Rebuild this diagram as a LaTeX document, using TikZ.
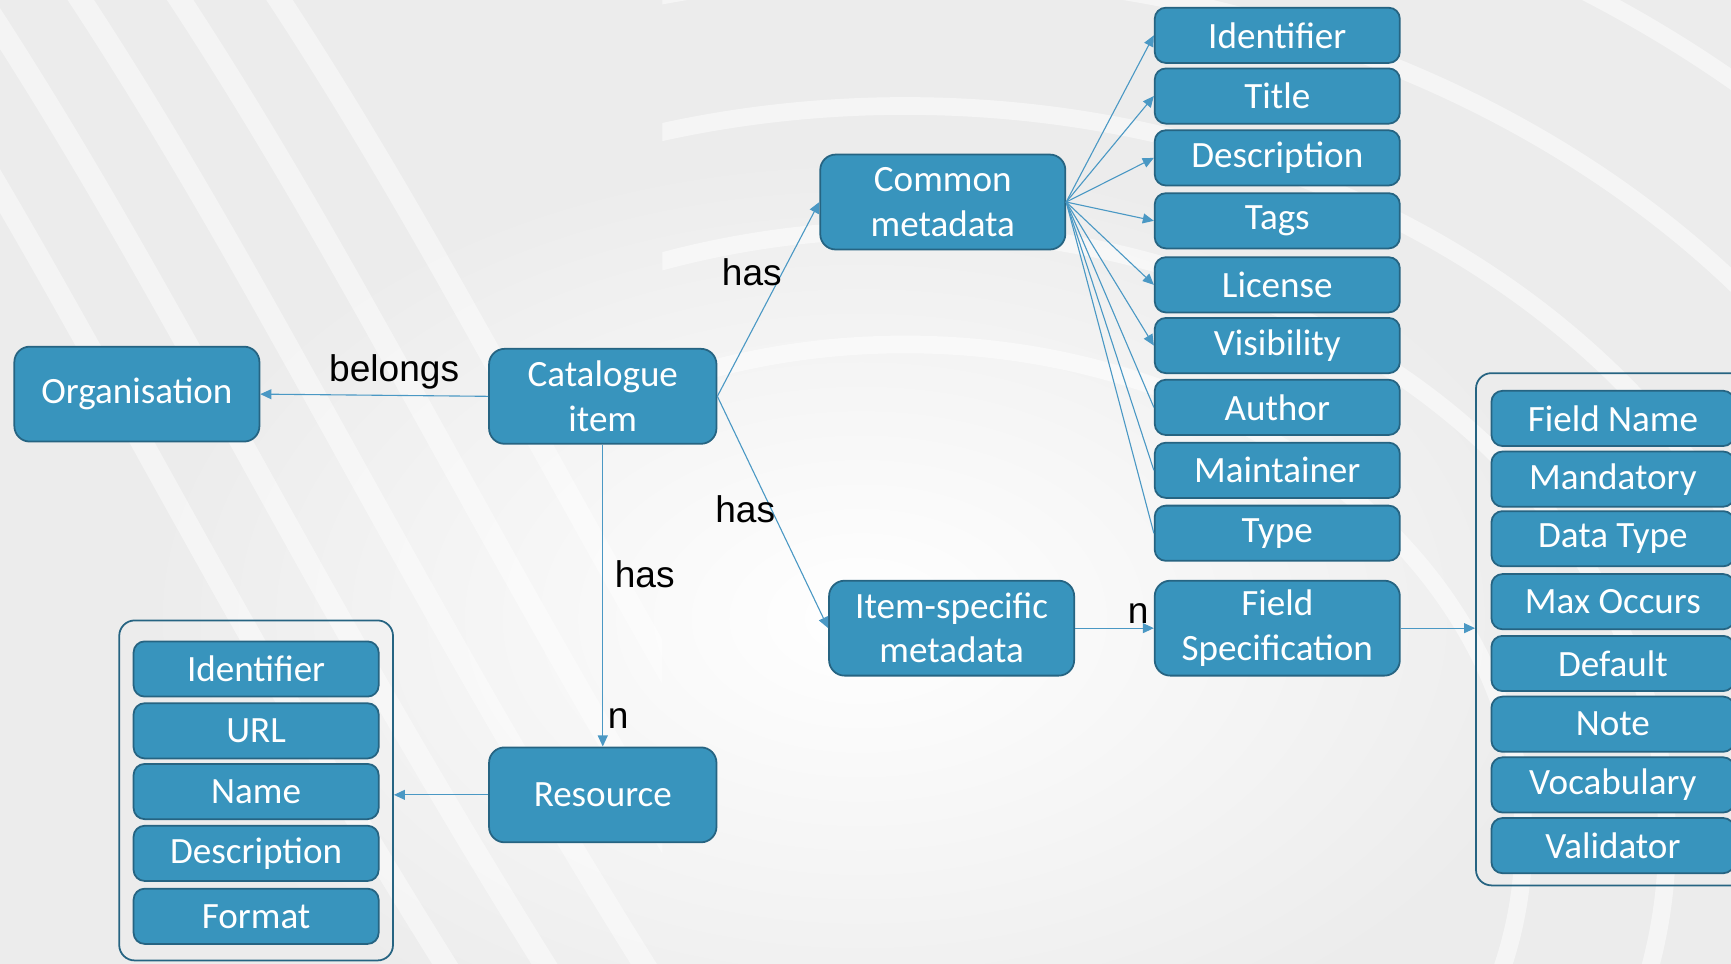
\documentclass[tikz,border=0pt]{standalone}
\usepackage{fontspec}
\newfontfamily\boxfont{Carlito}
\newfontfamily\lblfont{Liberation Sans}
\usetikzlibrary{arrows.meta}
\definecolor{boxc}{RGB}{56,148,189}
\definecolor{bord}{RGB}{38,100,130}
\definecolor{lnc}{RGB}{74,152,196}
\definecolor{bgc}{RGB}{236,236,236}
\begin{document}
\begin{tikzpicture}[x=0.5pt,y=-0.5pt,
 box/.style={draw=bord, fill=boxc, rounded corners=7pt, line width=0.8pt, text=white, align=center, inner sep=0pt, font=\boxfont\fontsize{16.8}{20}\selectfont},
 big/.style={box, minimum width=111pt, minimum height=43pt},
 mid/.style={box, minimum width=103pt, minimum height=43pt},
 item/.style={box, minimum width=111pt, minimum height=25pt, rounded corners=5pt},
 fitem/.style={box, minimum width=110pt, minimum height=25pt, rounded corners=5pt},
 grp/.style={draw=bord, line width=0.8pt, rounded corners=7pt, inner sep=0pt},
 lbl/.style={font=\lblfont\fontsize{16.8}{20}\selectfont, text=black, inner sep=0pt},
 link/.style={draw=lnc, line width=0.5pt, -{Triangle[length=5pt,width=4.5pt]}},
 plainlink/.style={draw=lnc, line width=0.5pt}
]
% background
\fill[bgc] (0,0) rectangle (1568,873);
\useasboundingbox (0,0) rectangle (1568,873);
\begin{scope}
\clip (0,0) rectangle (1568,873);
\shade[inner color=white, outer color=bgc] (780,560) ellipse (650 and 420);
\end{scope}
\begin{scope}
\clip (600,0) rectangle (1568,873);
\foreach \r in {560,690,830,980,1140,1310}
  \draw[white, line width=8pt, opacity=0.5] (820,760) ellipse ({\r} and {0.8*\r});
\end{scope}
\begin{scope}
\clip (0,0) rectangle (600,873);
\foreach \d in {0,90,180,270,360}
  \draw[white, line width=10pt, opacity=0.45] (\d-120,-20) .. controls (\d+60,250) and (\d+180,520) .. (\d+420,900);
\end{scope}

% main nodes
\node[big] (org) at (124,357) {Organisation};
\node[mid] (cat) at (546,359) {Catalogue\\item};
\node[big] (cm) at (854,183) {Common\\metadata};
\node[big] (is) at (862,569) {Item-specific\\metadata};
\node[big] (fs) at (1157,569) {Field\\Specification};
\node[mid] (res) at (546,720) {Resource};

% common metadata column
\node[item] (c1) at (1157,32) {Identifier};
\node[item] (c2) at (1157,87) {Title};
\node[item] (c3) at (1157,143) {Description};
\node[item] (c4) at (1157,200) {Tags};
\node[item] (c5) at (1157,258) {License};
\node[item] (c6) at (1157,313) {Visibility};
\node[item] (c7) at (1157,369) {Author};
\node[item] (c8) at (1157,426) {Maintainer};
\node[item] (c9) at (1157,483) {Type};

% resource group
\node[grp, minimum width=124pt, minimum height=154pt] (rgrp) at (232,716) {};
\node[item] (r1) at (232,606) {Identifier};
\node[item] (r2) at (232,662) {URL};
\node[item] (r3) at (232,717) {Name};
\node[item] (r4) at (232,773) {Description};
\node[item] (r5) at (232,830) {Format};

% field specification group
\node[grp, minimum width=126.5pt, minimum height=232pt] (fgrp) at (1463.5,570) {};
\node[fitem] (f1) at (1461,379) {Field Name};
\node[fitem] (f2) at (1461,434) {Mandatory};
\node[fitem] (f3) at (1461,488) {Data Type};
\node[fitem] (f4) at (1461,545) {Max Occurs};
\node[fitem] (f5) at (1461,601) {Default};
\node[fitem] (f6) at (1461,656) {Note};
\node[fitem] (f7) at (1461,711) {Vocabulary};
\node[fitem] (f8) at (1461,766) {Validator};

% connectors
\draw[link] (cat.west) -- (org.east);
\draw[link] (cat.east) -- (cm.west);
\draw[link] (cat.east) -- (is.west);
\draw[link] (cat.south) -- (res.north);
\draw[link] (res.west) -- (res.west -| rgrp.east);
\draw[link] (is.east) -- (fs.west);
\draw[link] (fs.east) -- (fs.east -| fgrp.west);
\foreach \i in {1,...,6} \draw[link] (cm.east) -- (c\i.west);
\foreach \i in {7,8,9} \draw[plainlink] (cm.east) -- (c\i.west);

% labels
\node[lbl] (lbelongs) at (357,337) {belongs};
\node[lbl] (lhas1) at (681,247) {has};
\node[lbl] (lhas2) at (675,461) {has};
\node[lbl] (lhas3) at (584,520) {has};
\node[lbl] (ln1) at (560,651) {n};
\node[lbl] (ln2) at (1031,556) {n};
\end{tikzpicture}
\end{document}
